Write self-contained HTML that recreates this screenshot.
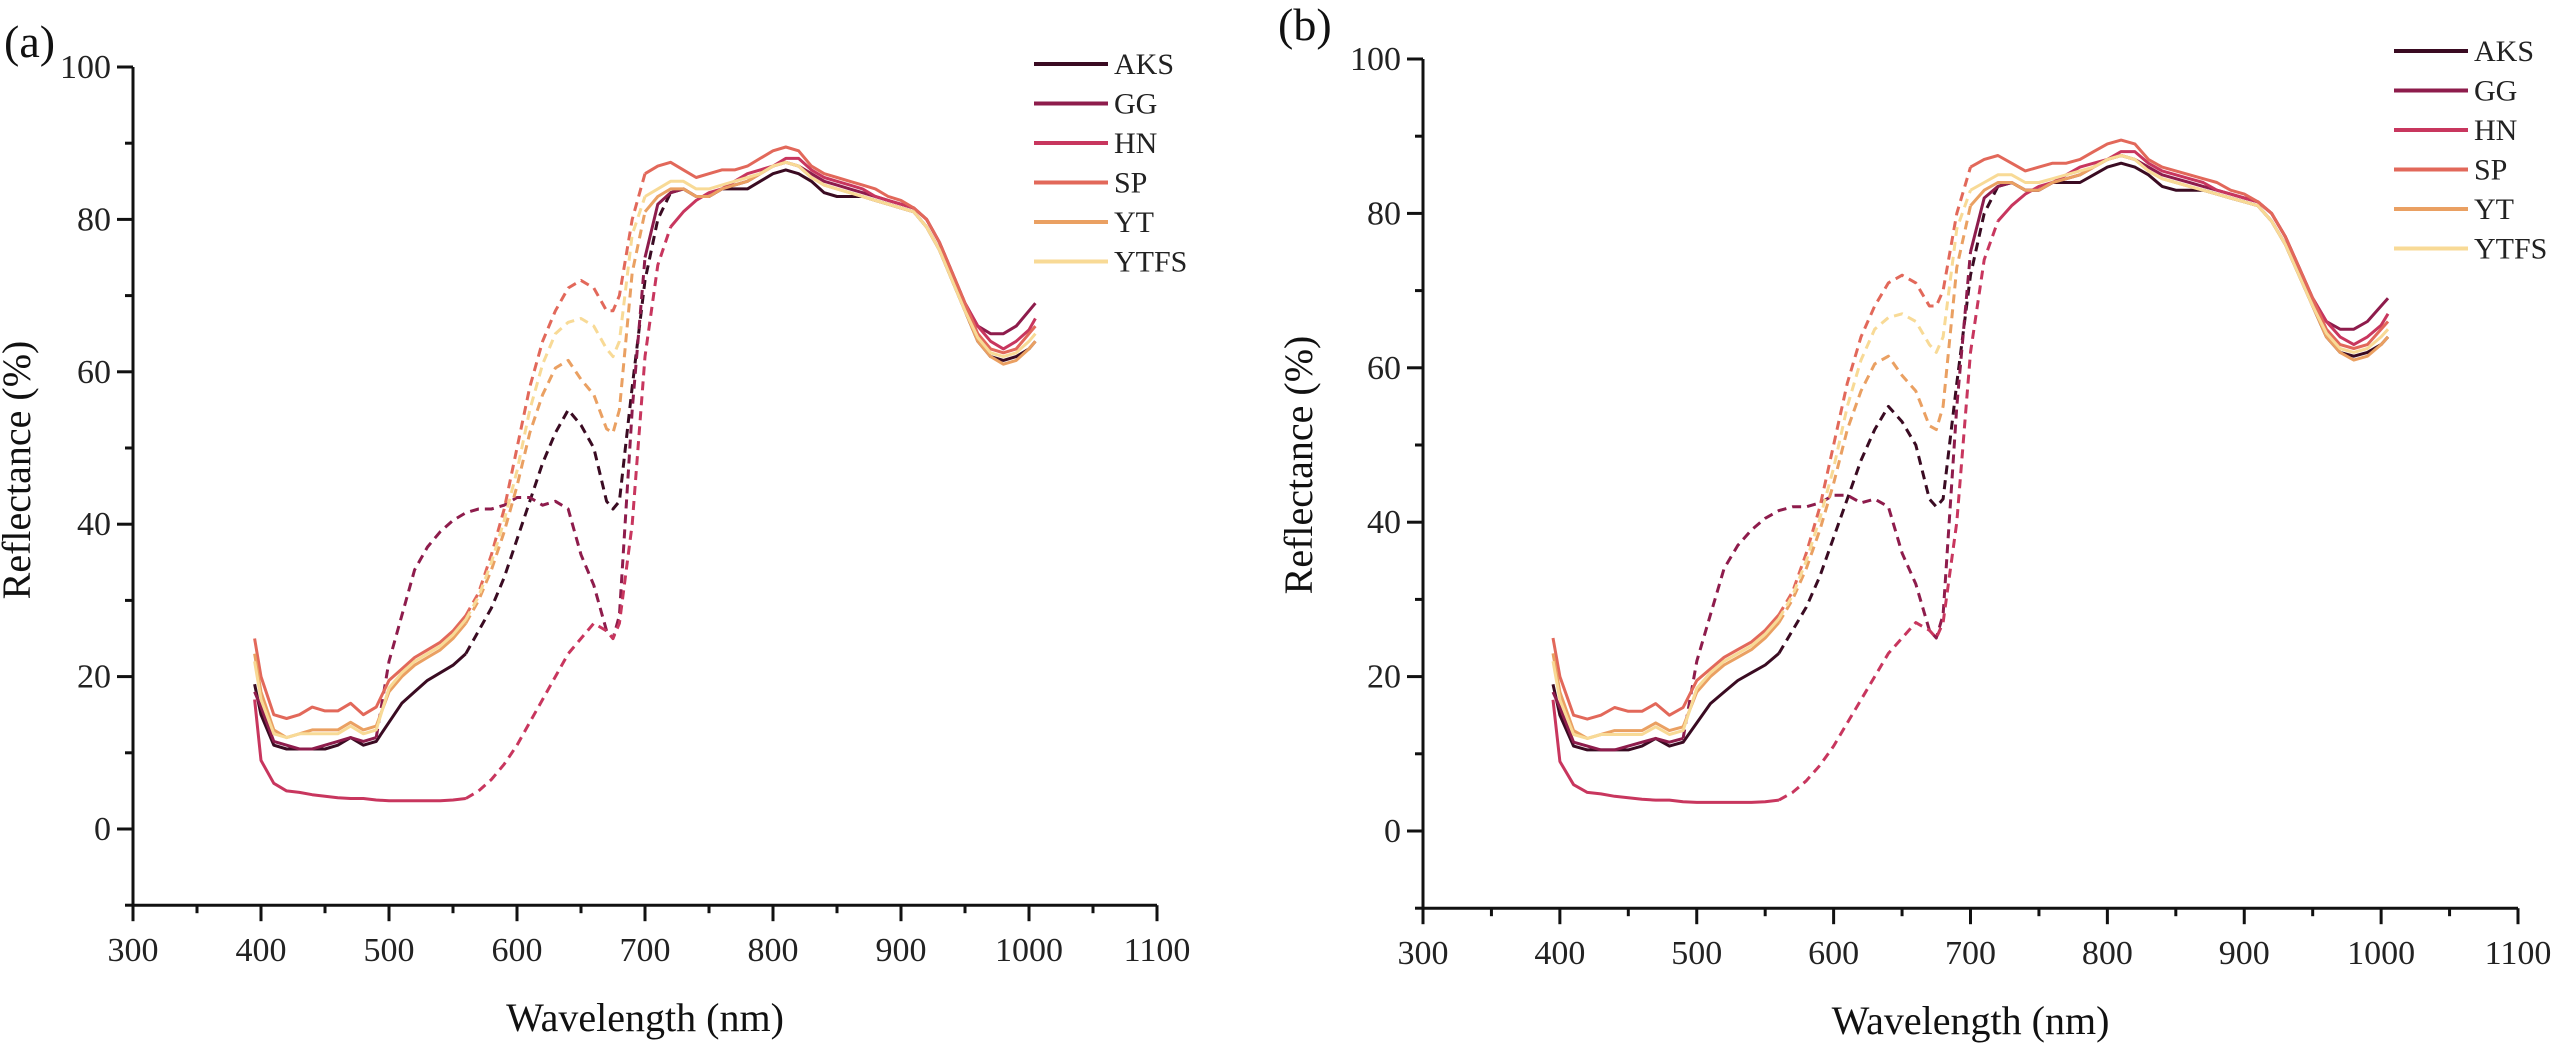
<!DOCTYPE html>
<html><head><meta charset="utf-8"><style>
html,body{margin:0;padding:0;background:#fff;}
svg{display:block;}
svg text{font-family:"Liberation Serif","DejaVu Serif",serif;}
</style></head><body>
<svg id="chart" width="2572" height="1052" viewBox="0 0 2572 1052" xmlns="http://www.w3.org/2000/svg" font-family="Liberation Serif, DejaVu Serif, serif"></svg>
<script>
const wavelengths=[395,400,410,420,430,440,450,460,470,480,490,500,510,520,530,540,550,560,570,580,590,600,610,620,630,640,650,660,670,675,680,690,700,710,720,730,740,750,760,770,780,790,800,810,820,830,840,850,860,870,880,890,900,910,920,930,940,950,960,970,980,990,1000,1005];
const seriesNames=["AKS","GG","HN","SP","YT","YTFS"];
const aksValues=[19,15,11,10.5,10.5,10.5,10.5,11,12,11,11.5,14,16.5,18,19.5,20.5,21.5,23,26,29,33,38,43,48,52,55,53,50,43,42,43,58,72,80,83.5,84,83,83,84,84,84,85,86,86.5,86,85,83.5,83,83,83,82.5,82,81.5,81,79,76,72,68,64,62,61.5,62,63,64];
const ggValues=[18,16,11.5,11,10.5,10.5,11,11.5,12,11.5,12,22,28,34,37,39,40.5,41.5,42,42,42.5,43.5,43.5,42.5,43,42,36,32,26,25,28,55,75,82,83.5,84,83,83,84,84.5,85,86,87,87.5,87,86,85,84.5,84,83.5,83,82.5,82,81.5,80,77,73,69,66,65,65,66,68,69];
const hnValues=[17,9,6,5,4.8,4.5,4.3,4.1,4,4,3.8,3.7,3.7,3.7,3.7,3.7,3.8,4,5,6.5,8.5,11,14,17,20,23,25,27,26,25,27,40,62,74,79,81,82.5,83.5,84,85,86,86.5,87,88,88,86.5,85.5,85,84.5,84,83,82.5,82,81.5,80,77,73,69,66,64,63,64,65.5,67];
const spValues=[25,20,15,14.5,15,16,15.5,15.5,16.5,15,16,19.5,21,22.5,23.5,24.5,26,28,31,36,42,50,58,64,68,71,72,71,68,68,70,80,86,87,87.5,86.5,85.5,86,86.5,86.5,87,88,89,89.5,89,87,86,85.5,85,84.5,84,83,82.5,81.5,80,77,73,69,65,63,62.5,63,65,66];
const ytValues=[23,18,13,12,12.5,13,13,13,14,13,13.5,18,20,21.5,22.5,23.5,25,27,30,34,39,45,52,57,60.5,61.5,59,57,52.5,52,55,73,81,83,84,84,83,83,84,84.5,85,86,87,87.5,87,85.5,84.5,84,83.5,83,82.5,82,81.5,81,79,76,72,68,64,62,61,61.5,63,64];
const ytfsValues=[22,17,12.5,12,12.5,12.5,12.5,12.5,13.5,12.5,13,18.5,20.5,22,23,24,25.5,27.5,30.5,35,40.5,47,55,61,65,66.5,67,66,63,62,64,78,83,84,85,85,84,84,84.5,85,85.5,86,87,87.5,87,85.5,84.5,84,83.5,83,82.5,82,81.5,81,79,76,72,68,64.5,62.5,62,62.5,64,65];
const dashStart=[560,490,560,560,560,560];
const dashEnd=[720,700,720,700,700,700];
const xTicks=[300,400,500,600,700,800,900,1000,1100];
const yTicks=[0,20,40,60,80,100];
const colors=["#3a0b22","#8e1c4c","#c8365e","#e2685a","#eaa062","#f8da96"];
const allValues=[aksValues,ggValues,hnValues,spValues,ytValues,ytfsValues];
const NS="http://www.w3.org/2000/svg";
const FONT="Liberation Serif, DejaVu Serif, serif";
const svg=document.getElementById('chart');
function mk(tag,attrs,parent){const e=document.createElementNS(NS,tag);for(const k in attrs)e.setAttribute(k,attrs[k]);if(tag==='text')e.setAttribute('font-family',FONT);(parent||svg).appendChild(e);return e;}
function panel(p){
  const g=mk('g',{});
  
  
  const xs=v=>p.x0+(v-300)/800*(p.x1-p.x0);
  const ys=v=>p.y0+(v)/100*(p.y100-p.y0);
  const yBottom=ys(-10);
  allValues.forEach((vals,si)=>{
    const sg=mk('g',{},g);
    
    
    let segs=[[],[],[]];
    wavelengths.forEach((w,i)=>{
      const pt=xs(w).toFixed(1)+','+ys(vals[i]).toFixed(1);
      if(w<=dashStart[si])segs[0].push(pt);
      if(w>=dashStart[si]&&w<=dashEnd[si])segs[1].push(pt);
      if(w>=dashEnd[si])segs[2].push(pt);
    });
    segs.forEach((s,k)=>{
      if(s.length<2)return;
      const pl=mk('polyline',{points:s.join(' '),fill:'none',stroke:colors[si],'stroke-width':3,'stroke-linejoin':'round'},sg);
      if(k===1)pl.setAttribute('stroke-dasharray','9 6');
      
      
    });
  });
  const ax=mk('path',{d:`M${p.x0},${ys(100)}V${yBottom}H${p.x1}`,fill:'none',stroke:'#111','stroke-width':3},g);
  
  
  for(let v=-10;v<=100;v+=10){
    const major=v%20===0;
    mk('line',{x1:p.x0-(major?16:8),x2:p.x0,y1:ys(v),y2:ys(v),stroke:'#111','stroke-width':3},g);
  }
  yTicks.forEach(v=>{
    const t=mk('text',{x:p.x0-22,y:ys(v)+11,'text-anchor':'end','font-size':34,fill:'#222'},g);
    t.textContent=v;
    
    
  });
  for(let v=300;v<=1100;v+=50){
    const major=v%100===0;
    mk('line',{x1:xs(v),x2:xs(v),y1:yBottom,y2:yBottom+(major?16:8),stroke:'#111','stroke-width':3},g);
  }
  xTicks.forEach(v=>{
    const t=mk('text',{x:xs(v),y:yBottom+56,'text-anchor':'middle','font-size':34,fill:'#222'},g);
    t.textContent=v;
    
    
  });
  const xt=mk('text',{x:(p.x0+p.x1)/2,y:yBottom+126,'text-anchor':'middle','font-size':40,fill:'#111'},g);
  xt.textContent='Wavelength (nm)';
  
  
  const yt=mk('text',{x:0,y:0,'text-anchor':'middle','font-size':40,fill:'#111',transform:`translate(${p.ytx},${p.yty}) rotate(-90)`},g);
  yt.textContent='Reflectance (%)';
  
  
  const lab=mk('text',{x:p.labx,y:p.laby,'font-size':46,fill:'#111'},g);
  lab.textContent='('+p.tag+')';
  
  
  seriesNames.forEach((n,i)=>{
    const le=mk('g',{},g);
    
    
    const yy=p.legy+i*39.5;
    mk('line',{x1:p.legx,x2:p.legx+74,y1:yy,y2:yy,stroke:colors[i],'stroke-width':4},le);
    const t=mk('text',{x:p.legx+80,y:yy+10,'font-size':30,fill:'#222'},le);
    t.textContent=n;
  });
}
panel({tag:'a',x0:133,x1:1157,y0:829,y100:67,ytx:30,yty:470,labx:4,laby:57,legx:1034,legy:64});
panel({tag:'b',x0:1423,x1:2518,y0:831,y100:59,ytx:1312,yty:465,labx:1278,laby:40,legx:2394,legy:51});
</script>
</body></html>
